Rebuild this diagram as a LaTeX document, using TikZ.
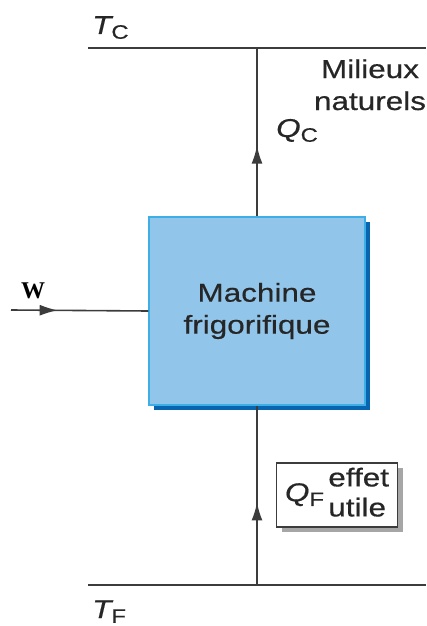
\documentclass[tikz,border=0pt]{standalone}
\usepackage{fontspec}
\newfontfamily\figfont[FakeStretch=1.22, FakeBold=0.5]{Liberation Sans}
\newfontfamily\wfont{Liberation Serif}
\usetikzlibrary{arrows.meta, positioning, shadows, decorations.markings}
\definecolor{boxblue}{HTML}{92C5EA}
\definecolor{boxedge}{HTML}{3DAFE6}
\definecolor{boxshade}{HTML}{0866B0}
\definecolor{wirecol}{HTML}{3C3C3C}
\newcommand{\lowsub}[1]{\raisebox{-0.35ex}{\fontsize{19.5}{19.5}\selectfont #1}}

\begin{document}
\begin{tikzpicture}[x=1pt, y=-1pt,
  wire/.style={draw=wirecol, line width=1.6pt},
  flow/.style={postaction={decorate}, decoration={markings,
      mark=at position #1 with {\arrow{Latex[length=18pt, width=11pt]}}}},
  lbl/.style={font=\figfont\fontsize{25.8}{32}\selectfont, text=black!85, inner sep=0pt},
  machinebox/.style={draw=boxedge, line width=1.2pt, fill=boxblue,
      minimum width=216pt, minimum height=188pt, align=center,
      drop shadow={shadow xshift=5pt, shadow yshift=-5pt, fill=boxshade, opacity=1}},
  usebox/.style={draw=wirecol, line width=1.2pt, fill=white, inner sep=3pt,
      minimum width=121pt, minimum height=64pt,
      drop shadow={shadow xshift=5pt, shadow yshift=-5pt, fill=black!35, opacity=1}}]
  \useasboundingbox (0,0) rectangle (426,626);
  % reservoirs
  \coordinate (tcl) at (88,48);
  \coordinate (tcr) at (426,48);
  \coordinate (tfl) at (88,585);
  \coordinate (tfr) at (426,585);
  \coordinate (hot) at (257,48);
  \coordinate (cold) at (257,585);
  \coordinate (win) at (11,310);
  \draw[wire] (tcl) -- (tcr);
  \draw[wire] (tfl) -- (tfr);
  \node[lbl, anchor=base west] (tc) at (92,34) {{\itshape T}\lowsub{C}};
  \node[lbl, anchor=base west] (tf) at (92,618) {{\itshape T}\lowsub{F}};
  \node[lbl, align=center, anchor=base] (milieux) at (370,110) {Milieux\\naturels};
  % machine
  \node[machinebox, lbl] (machine) at (257,311) {Machine\\frigorifique};
  \draw[wire, flow=0.42] (machine.north) -- (hot);
  \draw[wire, flow=0.46] (cold) -- (machine.south);
  \draw[wire, flow=0.34] (win) -- (machine.west);
  \node[font=\wfont\bfseries\fontsize{24}{24}\selectfont, anchor=base] (w) at (33,298) {W};
  \node[lbl, anchor=base west] (qc) at (276,137) {{\itshape Q}\lowsub{C}};
  \node[usebox, lbl] (qf) at (337,495)
    {{\itshape Q}\lowsub{F}\,\begin{tabular}{@{}l@{}}effet\\[-2pt]utile\end{tabular}};
\end{tikzpicture}
\end{document}
